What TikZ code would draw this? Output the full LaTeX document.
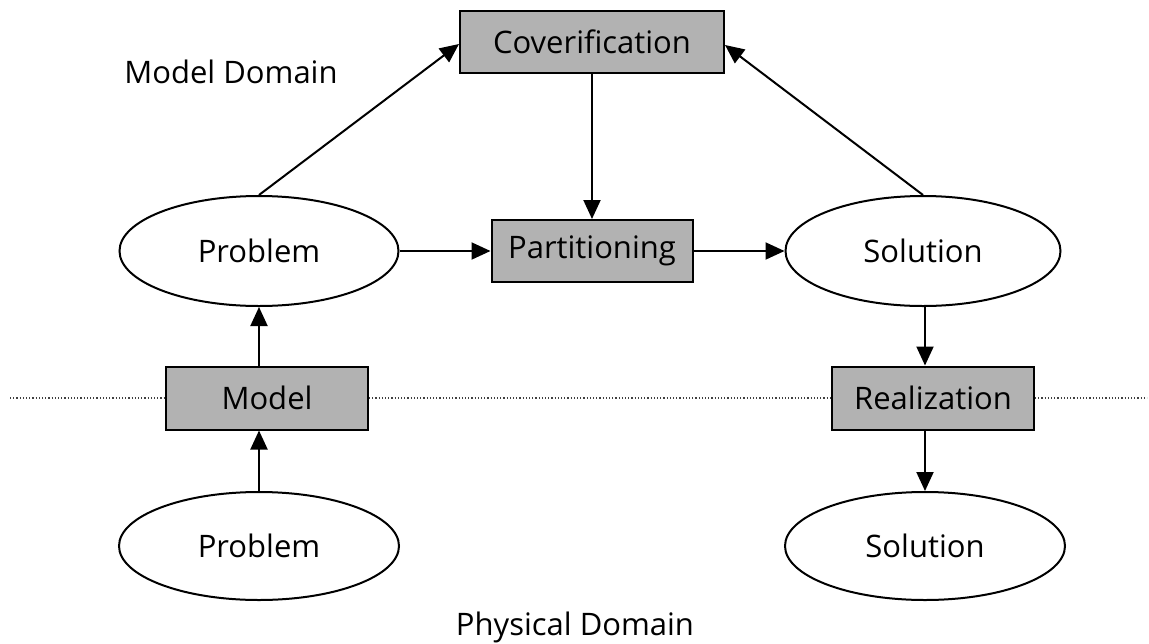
\documentclass[tikz,border=0pt]{standalone}
\usepackage{fontspec}
\setmainfont{Open Sans}
\usetikzlibrary{shapes.geometric,arrows.meta}
\begin{document}
\begin{tikzpicture}[x=1pt,y=-1pt,
  every node/.style={font=\fontsize{31}{36}\selectfont},
  box/.style={draw,line width=2pt,fill=black!30,rectangle,inner sep=0pt},
  oval/.style={draw,line width=2pt,ellipse,inner sep=0pt},
  arr/.style={line width=2pt,-{Triangle[length=19pt,width=17pt]}},
  dotline/.style={line width=1.2pt,dotted,black!75}]
\useasboundingbox (0,0) rectangle (1149,643);
% boxes
\node[box,minimum width=264pt,minimum height=62pt] (cov) at (592,42) {Coverification};
\node[box,minimum width=201pt,minimum height=62pt] (par) at (592,251) {Partitioning};
\node[box,minimum width=202pt,minimum height=63pt] (mod) at (267,398) {Model};
\node[box,minimum width=202pt,minimum height=63pt] (rea) at (933,398) {Realization};
% ellipses
\node[oval,minimum width=279pt,minimum height=110pt] (prob) at (259,251) {Problem};
\node[oval,minimum width=275pt,minimum height=110pt] (sol) at (923,251) {Solution};
\node[oval,minimum width=280pt,minimum height=108pt] (prob2) at (259,546) {Problem};
\node[oval,minimum width=280pt,minimum height=108pt] (sol2) at (925,546) {Solution};
% labels
\node (md) at (231,72) {Model Domain};
\node (pd) at (575,627) {Physical Domain};
% dotted line
\coordinate (dl) at (10,398);
\coordinate (dr) at (1147,398);
\draw[dotline] (dl) -- (mod.west);
\draw[dotline] (mod.east) -- (rea.west);
\draw[dotline] (rea.east) -- (dr);
% arrows
\draw[arr] (prob.north) -- (cov.south west |- 0,44) ;
\draw[arr] (sol.north) -- (cov.south east |- 0,45);
\draw[arr] (cov.south) -- (par.north);
\draw[arr] (prob.east) -- (par.west);
\draw[arr] (par.east) -- (sol.west);
\draw[arr] (sol.south -| 925,0) -- (rea.north -| 925,0);
\draw[arr] (rea.south -| 925,0) -- (sol2.north);
\draw[arr] (prob2.north) -- (mod.south -| 259,0);
\draw[arr] (mod.north -| 259,0) -- (prob.south);
\end{tikzpicture}
\end{document}
